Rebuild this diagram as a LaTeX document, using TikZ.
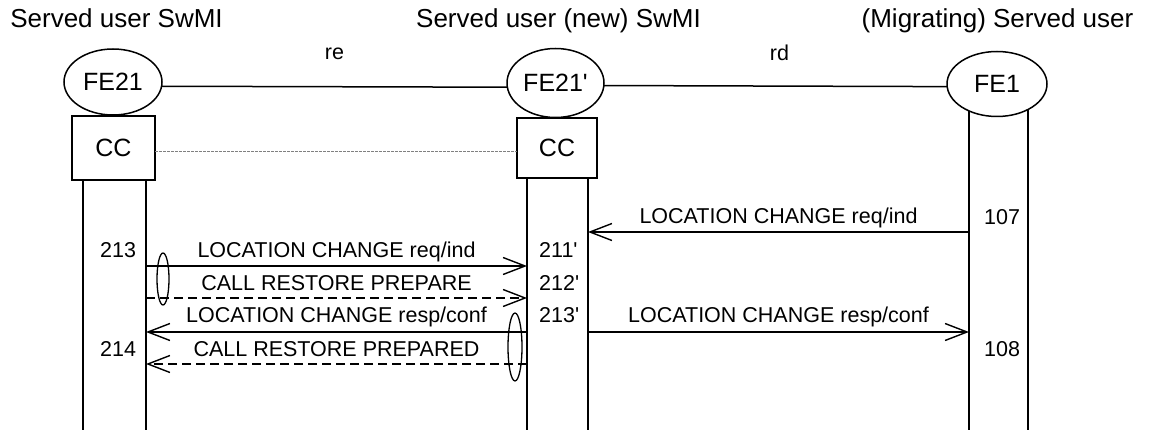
\documentclass[tikz,border=0pt]{standalone}
\usepackage{fontspec}
\newfontfamily\arial{Liberation Sans}
\usetikzlibrary{shapes.geometric,arrows.meta}
\begin{document}
\begin{tikzpicture}[x=1pt,y=-1pt,
 hdr/.style={font=\arial\fontsize{26}{30}\selectfont, inner sep=0pt, anchor=base},
 fe/.style={draw, ellipse, line width=1.5pt, inner sep=0pt, outer sep=0pt, font=\arial\fontsize{25}{30}\selectfont},
 ccbox/.style={draw, rectangle, line width=1.5pt, inner sep=0pt, outer sep=0pt, font=\arial\fontsize{25}{30}\selectfont},
 life/.style={line width=1.6pt},
 link/.style={line width=1.5pt},
 lbl/.style={font=\arial\fontsize{21.5}{24}\selectfont, inner sep=0pt},
 msg/.style={line width=1.4pt, -{Straight Barb[length=22pt,width=17pt]}},
 dmsg/.style={msg, dash pattern=on 9pt off 5pt},
 grp/.style={draw, ellipse, line width=1.3pt, inner sep=0pt, outer sep=0pt},
 ccline/.style={gray, line width=0.7pt, dash pattern=on 3pt off 1pt}
]
\useasboundingbox (0,0) rectangle (1149,430);

% headers
\node[hdr] (h1) at (116.5,28) {Served user SwMI};
\node[hdr] (h2) at (558.5,28) {Served user (new) SwMI};
\node[hdr] (h3) at (997.5,28) {(Migrating) Served user};

% functional entities
\node[fe, minimum width=98pt, minimum height=66pt] (fe21) at (113,82) {FE21};
\node[fe, minimum width=97pt, minimum height=69pt] (fe21p) at (555.5,83) {FE21'};
\node[fe, minimum width=100pt, minimum height=65pt] (fe1) at (997,84) {FE1};

\node[ccbox, minimum width=83pt, minimum height=64pt] (cc1) at (113.5,148) {CC};
\node[ccbox, minimum width=80pt, minimum height=60pt] (cc2) at (557,148) {CC};

% relationships
\draw[link] (fe21.-5) -- (fe21p.185) node[lbl, midway, anchor=base, yshift=27pt] (re) {re};
\draw[link] (fe21p.-3) -- (fe1.183) node[lbl, midway, anchor=base, xshift=4pt, yshift=26pt] (rd) {rd};
\draw[ccline] ([yshift=-3pt]cc1.east) -- ([yshift=-3pt]cc2.west);

% lifelines
\coordinate (b1a) at (83,430);
\coordinate (b1b) at (146,430);
\coordinate (b2a) at (527,430);
\coordinate (b2b) at (588,430);
\coordinate (b3a) at (969,430);
\coordinate (b3b) at (1028,430);
\draw[life] (cc1.south -| b1a) -- (b1a);
\draw[life] (cc1.south -| b1b) -- (b1b);
\draw[life] (cc2.south -| b2a) -- (b2a);
\draw[life] (cc2.south -| b2b) -- (b2b);
\draw[life] (fe1.224 -| b3a) -- (b3a);
\draw[life] (fe1.-40 -| b3b) -- (b3b);

% message end points
\coordinate (m0s) at (969,232);
\coordinate (m0e) at (588,232);
\coordinate (m1s) at (146,266);
\coordinate (m1e) at (527,266);
\coordinate (m2s) at (146,298);
\coordinate (m2e) at (527,298);
\coordinate (m3s) at (527,332);
\coordinate (m3e) at (146,332);
\coordinate (m5s) at (588,332);
\coordinate (m5e) at (969,332);
\coordinate (m4s) at (527,364);
\coordinate (m4e) at (146,364);

% messages
\draw[msg] (m0s) -- (m0e) node[lbl, midway, anchor=base, yshift=8pt] (t0) {LOCATION CHANGE req/ind};
\draw[msg] (m1s) -- (m1e) node[lbl, midway, anchor=base, yshift=8pt] (t1) {LOCATION CHANGE req/ind};
\draw[dmsg] (m2s) -- (m2e) node[lbl, midway, anchor=base, yshift=7pt] (t2) {CALL RESTORE PREPARE};
\draw[msg] (m3s) -- (m3e) node[lbl, midway, anchor=base, yshift=9pt] (t3) {LOCATION CHANGE resp/conf};
\draw[msg] (m5s) -- (m5e) node[lbl, midway, anchor=base, yshift=9pt] (t5) {LOCATION CHANGE resp/conf};
\draw[dmsg] (m4s) -- (m4e) node[lbl, midway, anchor=base, yshift=7pt] (t4) {CALL RESTORE PREPARED};

% grouping ellipses
\node[grp, minimum width=12pt, minimum height=52pt] (g1) at (163,279) {};
\node[grp, minimum width=14pt, minimum height=68pt] (g2) at (515,347) {};

% step numbers
\node[lbl, anchor=base west] (n213) at (100,258) {213};
\node[lbl, anchor=base west] (n214) at (100,357) {214};
\node[lbl, anchor=base west] (n211p) at (539,258) {211'};
\node[lbl, anchor=base west] (n212p) at (539,291) {212'};
\node[lbl, anchor=base west] (n213p) at (539,323) {213'};
\node[lbl, anchor=base west] (n107) at (984,225) {107};
\node[lbl, anchor=base west] (n108) at (984,357) {108};
\end{tikzpicture}
\end{document}
